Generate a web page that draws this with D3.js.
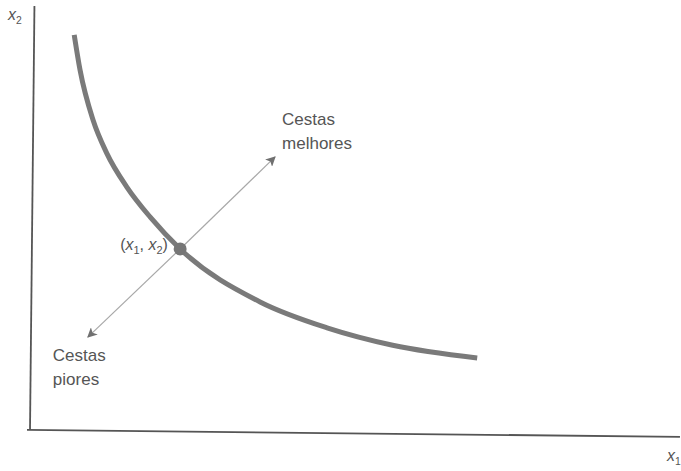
<!DOCTYPE html>
<html>
<head>
<meta charset="utf-8">
<script src="https://cdn.jsdelivr.net/npm/d3@7"></script>
<style>
  html, body { margin: 0; padding: 0; background: #fff; }
  svg { display: block; }
</style>
</head>
<body>
<div id="chart"></div>
<script>
// curva de indiferença (x1, x2), escala 0..100
const curveX1 = [6.8, 7.7, 9.7, 11.8, 14.9, 18.5, 23.1, 35.4, 45.7, 55.8, 68.8];
const curveX2 = [93.2, 84.9, 73.1, 65.3, 57.3, 50.2, 42.7, 30.2, 24.1, 20.0, 17.0];

// cesta escolhida e as duas setas
const bundle = [23.1, 42.7];
const arrowBetter = [37.7, 64.4];
const arrowWorse = [8.9, 21.9];

const labelBetter = ["Cestas", "melhores"];
const labelWorse = ["Cestas", "piores"];

const width = 681;
const height = 471;
const origin = { x: 30, y: 430 };

const x = d3.scaleLinear().domain([0, 100]).range([origin.x, origin.x + 650]);
const y = d3.scaleLinear().domain([0, 100]).range([origin.y, origin.y - 424]);

const svg = d3.select("#chart")
  .append("svg")
  .attr("width", width)
  .attr("height", height)
  .style("font-family", "'Liberation Sans', Arial, sans-serif");

const defs = svg.append("defs");
defs.append("marker")
  .attr("id", "head")
  .attr("viewBox", "0 0 10 10")
  .attr("refX", 9)
  .attr("refY", 5)
  .attr("markerWidth", 10)
  .attr("markerHeight", 10)
  .attr("markerUnits", "userSpaceOnUse")
  .attr("orient", "auto")
  .append("path")
  .attr("d", "M0,0 L10,5 L0,10 L2.5,5 Z")
  .attr("fill", "#707070");

// eixos (o original é ligeiramente inclinado na digitalização)
const axes = svg.append("g")
  .attr("transform", `rotate(0.6, ${x(0)}, ${y(0)})`)
  .attr("stroke", "#555")
  .attr("stroke-width", 1.8);

axes.append("line")
  .attr("x1", x(0)).attr("y1", y(0))
  .attr("x2", x(0)).attr("y2", y(100));

axes.append("line")
  .attr("x1", x(0) - 3).attr("y1", y(0))
  .attr("x2", x(100)).attr("y2", y(0));

// setas: cestas melhores / piores
const arrows = svg.append("g")
  .attr("stroke", "#a8a8a8")
  .attr("stroke-width", 1.2);

[arrowBetter, arrowWorse].forEach(tip => {
  arrows.append("line")
    .attr("x1", x(bundle[0])).attr("y1", y(bundle[1]))
    .attr("x2", x(tip[0])).attr("y2", y(tip[1]))
    .attr("marker-end", "url(#head)");
});

// curva
const pts = curveX1.map((v, i) => [v, curveX2[i]]);
svg.append("path")
  .datum(pts)
  .attr("fill", "none")
  .attr("stroke", "#7a7a7a")
  .attr("stroke-width", 5)
  .attr("stroke-linecap", "butt")
  .attr("d", d3.line()
    .x(d => x(d[0]))
    .y(d => y(d[1]))
    .curve(d3.curveMonotoneX));

svg.append("circle")
  .attr("cx", x(bundle[0]))
  .attr("cy", y(bundle[1]))
  .attr("r", 6.5)
  .attr("fill", "#767676");

// rótulos
const textColor = "#555";

function subLabel(g, px, py, base, sub, size) {
  const t = g.append("text")
    .attr("x", px).attr("y", py)
    .attr("fill", textColor)
    .style("font-size", size + "px");
  t.append("tspan").style("font-style", "italic").text(base);
  t.append("tspan").attr("dy", 4).style("font-size", (size * 0.65) + "px").text(sub);
  return t;
}

subLabel(svg, 8, 20, "x", "2", 16);
subLabel(svg, 667, 461, "x", "1", 16);

const pair = svg.append("text")
  .attr("x", x(bundle[0]) - 60)
  .attr("y", y(bundle[1]) + 1)
  .attr("fill", textColor)
  .style("font-size", "16px");
pair.append("tspan").text("(");
pair.append("tspan").style("font-style", "italic").text("x");
pair.append("tspan").attr("dy", 4).style("font-size", "11px").text("1");
pair.append("tspan").attr("dy", -4).text(", ");
pair.append("tspan").style("font-style", "italic").text("x");
pair.append("tspan").attr("dy", 4).style("font-size", "11px").text("2");
pair.append("tspan").attr("dy", -4).text(")");

function block(lines, px, py) {
  const t = svg.append("text")
    .attr("fill", textColor)
    .style("font-size", "17px");
  lines.forEach((s, i) => {
    t.append("tspan").attr("x", px).attr("y", py + i * 24).text(s);
  });
}

block(labelBetter, x(arrowBetter[0]) + 7, y(arrowBetter[1]) - 32);
block(labelWorse, x(arrowWorse[0]) - 35, y(arrowWorse[1]) + 24);
</script>
</body>
</html>
